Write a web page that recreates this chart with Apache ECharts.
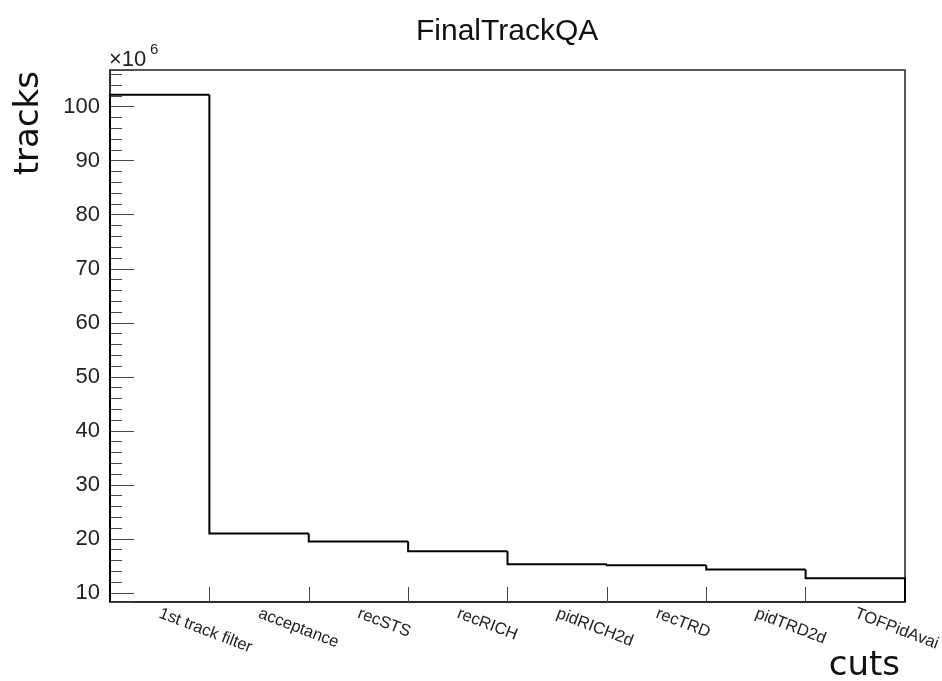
<!DOCTYPE html>
<html>
<head>
<meta charset="utf-8">
<title>FinalTrackQA</title>
<script src="https://cdn.jsdelivr.net/npm/echarts@6/dist/echarts.min.js"></script>
<style>
  html, body { margin: 0; padding: 0; background: #fff; }
  #chart { width: 942px; height: 681px; }
</style>
</head>
<body>
<div id="chart"></div>
<script>
// Cut-flow: number of tracks (in units of 10^6) surviving each selection step
const cuts = ['1st track filter', 'acceptance', 'recSTS', 'recRICH', 'pidRICH2d', 'recTRD', 'pidTRD2d', 'TOFPidAvai'];
const tracks = [102.2, 21.0, 19.5, 17.7, 15.3, 15.1, 14.3, 12.7];

// Vertical range of the frame (10^6 tracks)
const yMin = 8.3;
const yMax = 106.8;

const chart = echarts.init(document.getElementById('chart'), null, { renderer: 'canvas' });

const sansFont = '"Liberation Sans", Arial, Helvetica, sans-serif';
const titleFont = '"DejaVu Sans", sans-serif';

// Histogram outline: each bin draws its left edge (from the previous bin level)
// and its flat top across the whole bin width.
function renderStep(params, api) {
  const i = api.value(0);
  const v = api.value(1);
  const prev = i === 0 ? yMin : tracks[i - 1];
  const w = api.size([1, 0])[0];
  const c = api.coord([i, v]);
  const p = api.coord([i, prev]);
  const xl = c[0] - w / 2;
  const xr = c[0] + w / 2;
  const pts = [[xl, p[1]], [xl, c[1]], [xr, c[1]]];
  if (i === tracks.length - 1) {
    pts.push([xr, api.coord([i, yMin])[1]]);
  }
  return {
    type: 'polyline',
    shape: { points: pts },
    style: { stroke: '#000', lineWidth: 2, fill: null, lineJoin: 'miter' }
  };
}

const option = {
  backgroundColor: '#fff',
  animation: false,
  title: {
    text: 'FinalTrackQA',
    left: 411,
    top: 12,
    textStyle: { fontFamily: sansFont, fontSize: 30, fontWeight: 'normal', color: '#111' }
  },
  grid: {
    left: 110, right: 37, top: 70, bottom: 79,
    outerBoundsMode: 'none',
    containLabel: false,
    show: true, borderColor: '#222', borderWidth: 1.5, backgroundColor: 'transparent'
  },
  xAxis: {
    type: 'category',
    data: cuts,
    boundaryGap: true,
    axisLine: { show: true, lineStyle: { color: '#222', width: 1.5 } },
    axisTick: { show: true, inside: true, length: 15, alignWithLabel: false, lineStyle: { color: '#444', width: 1 } },
    axisLabel: {
      rotate: -21, margin: 11, fontFamily: sansFont, fontSize: 16.5, color: '#222',
      interval: 0
    },
    splitLine: { show: false }
  },
  yAxis: {
    type: 'value',
    min: yMin,
    max: yMax,
    splitNumber: 10,
    axisLine: { show: true, lineStyle: { color: '#222', width: 1.5 } },
    axisTick: { show: true, inside: true, length: 24, lineStyle: { color: '#444', width: 1 } },
    minorTick: { show: true, splitNumber: 5, length: 12, lineStyle: { color: '#444', width: 1 } },
    axisLabel: {
      margin: 10, fontFamily: sansFont, fontSize: 22, color: '#222',
      showMinLabel: false, showMaxLabel: false
    },
    splitLine: { show: false },
    minorSplitLine: { show: false }
  },
  series: [{
    type: 'custom',
    renderItem: renderStep,
    encode: { x: 0, y: 1 },
    data: tracks.map((v, i) => [i, v]),
    clip: false,
    z: 5
  }],
  graphic: [
    {
      type: 'text', x: 29, y: 71, rotation: Math.PI / 2,
      style: { text: 'tracks', fontSize: 34, fontFamily: titleFont, fill: '#111', align: 'right', verticalAlign: 'middle' }
    },
    {
      type: 'text', x: 900, y: 666,
      style: { text: 'cuts', fontSize: 34, fontFamily: titleFont, fill: '#111', align: 'right', verticalAlign: 'middle' }
    },
    {
      type: 'text', x: 109, y: 60,
      style: { text: '\u00d710', fontSize: 22, fontFamily: sansFont, fill: '#222', align: 'left', verticalAlign: 'middle' }
    },
    {
      type: 'text', x: 150, y: 50,
      style: { text: '6', fontSize: 15, fontFamily: sansFont, fill: '#222', align: 'left', verticalAlign: 'middle' }
    }
  ]
};

chart.setOption(option);
</script>
</body>
</html>
